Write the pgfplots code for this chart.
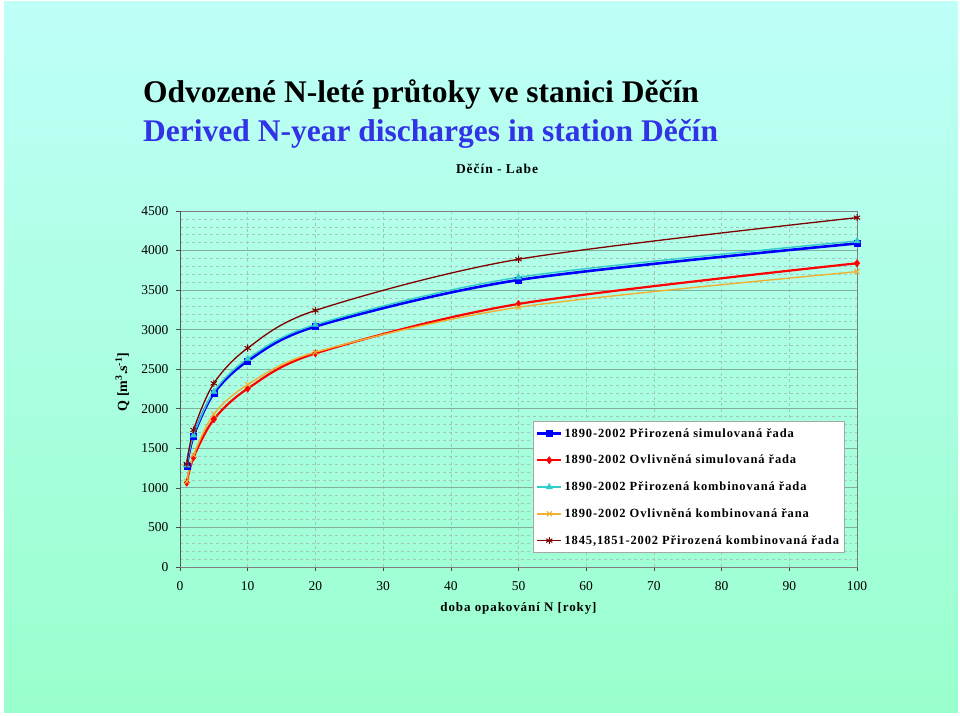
\documentclass[border=0pt]{standalone}
\usepackage{fontspec}
\setmainfont{Liberation Serif}
\newfontfamily\spfont[LetterSpace=7]{Liberation Serif}
\usepackage{pgfplots}
\pgfplotsset{compat=1.18}
\definecolor{bgtop}{RGB}{190,255,248}
\definecolor{bgbot}{RGB}{153,255,204}
\definecolor{ttblue}{RGB}{50,50,230}
\definecolor{sblue}{RGB}{0,0,255}
\definecolor{sred}{RGB}{255,0,0}
\definecolor{scyan}{RGB}{51,204,204}
\definecolor{sorange}{RGB}{240,176,50}
\definecolor{sbrown}{RGB}{128,0,0}
\definecolor{majgrid}{RGB}{130,175,160}
\definecolor{mingrid}{RGB}{160,200,190}
\begin{document}
\begin{tikzpicture}[x=1bp,y=1bp]
\fill[white] (0,0) rectangle (960,716);
\shade[top color=bgtop, bottom color=bgbot] (4,3) rectangle (958,714);
\node[anchor=base west, inner sep=0pt, font=\bfseries\fontsize{31.5bp}{33bp}\selectfont] at (143,613) {Odvozené N-leté průtoky ve stanici Děčín};
\node[anchor=base west, inner sep=0pt, text=ttblue, font=\bfseries\fontsize{31.5bp}{33bp}\selectfont] at (143,574) {Derived N-year discharges in station Děčín};
\node[anchor=base, inner sep=0pt, font=\spfont\bfseries\fontsize{13.5bp}{15bp}\selectfont] at (497,542) {Děčín - Labe};
\begin{axis}[
  scale only axis,
  width=677bp, height=356bp,
  at={(180bp,149bp)}, anchor=south west,
  xmin=0, xmax=100, ymin=0, ymax=4500,
  xtick={0,10,...,100},
  ytick={0,500,...,4500},
  xtick pos=bottom, ytick pos=left,
  minor y tick num=4,
  ymajorgrids, xmajorgrids, yminorgrids,
  major grid style={majgrid, line width=0.8bp},
  x grid style={mingrid, dashed, line width=0.6bp},
  minor grid style={mingrid, dashed, line width=0.6bp},
  axis line style={gray, line width=0.8bp},
  tick align=outside,
  major tick length=4bp,
  minor tick length=0pt,
  tick style={black!70, line width=0.6bp},
  ticklabel style={font=\fontsize{13.5bp}{15bp}\selectfont},
  /pgf/number format/assume math mode=true,
  /pgf/number format/1000 sep={},
  xticklabel style={yshift=-7bp},
  yticklabel style={xshift=-4bp},
  xlabel={doba opakování N [roky]},
  xlabel style={font=\spfont\bfseries\fontsize{13bp}{14bp}\selectfont, at={(axis description cs:0.5,-0.124)}, anchor=base},
  ylabel={Q [m\textsuperscript{3}.s\textsuperscript{-1}]},
  ylabel style={font=\bfseries\fontsize{14bp}{15bp}\selectfont, at={(axis description cs:-0.085,0.52)}, anchor=center, rotate=0},
  legend cell align=left,
  legend style={at={(rel axis cs:0.521,0.410)}, anchor=north west, fill=white, draw=gray!70, line width=0.5bp,
    font=\spfont\bfseries\fontsize{12.5bp}{13bp}\selectfont, row sep=12.5bp, inner xsep=3bp, inner ysep=5bp},
  legend image code/.code={\draw[mark repeat=2,mark phase=2,#1] plot coordinates {(0bp,0bp) (12bp,0bp) (24bp,0bp)};},
]
\addplot[sblue, line width=2.6bp, smooth, mark=square*, mark size=3bp, mark options={line width=0.5bp, fill=sblue}] coordinates {
(1,1275) (2,1656) (5,2196) (10,2604) (20,3040) (50,3628) (100,4090)};
\addlegendentry{1890-2002 Přirozená simulovaná řada}
\addplot[sred, line width=2.2bp, smooth, mark=diamond*, mark size=3.6bp, mark options={line width=0.5bp, fill=sred}] coordinates {
(1,1066) (2,1387) (5,1867) (10,2255) (20,2700) (50,3325) (100,3839)};
\addlegendentry{1890-2002 Ovlivněná simulovaná řada}
\addplot[scyan, line width=1.4bp, smooth, mark=triangle*, mark size=3.6bp, mark options={line width=0.5bp, fill=scyan}] coordinates {
(1,1285) (2,1665) (5,2216) (10,2632) (20,3063) (50,3662) (100,4121)};
\addlegendentry{1890-2002 Přirozená kombinovaná řada}
\addplot[sorange, line width=1.4bp, smooth, mark=x, mark size=3.5bp, mark options={line width=1bp}] coordinates {
(1,1080) (2,1416) (5,1934) (10,2305) (20,2715) (50,3283) (100,3733)};
\addlegendentry{1890-2002 Ovlivněná kombinovaná řana}
\addplot[sbrown, line width=1.3bp, smooth, mark=asterisk, mark size=3.6bp, mark options={line width=1bp}] coordinates {
(1,1302) (2,1732) (5,2322) (10,2767) (20,3243) (50,3890) (100,4416)};
\addlegendentry{1845,1851-2002 Přirozená kombinovaná řada}
\draw[black!65, line width=0.9bp] (rel axis cs:0,1) -- (rel axis cs:0,0) -- (rel axis cs:1,0);
\end{axis}
\end{tikzpicture}
\end{document}
